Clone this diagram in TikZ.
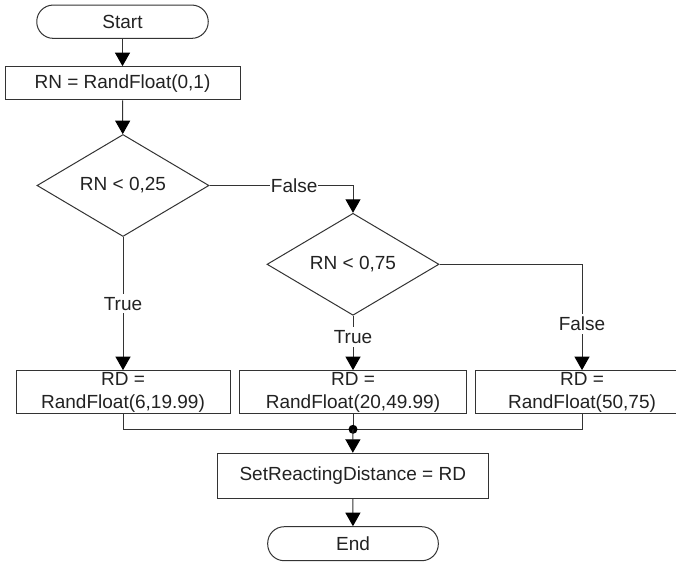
\documentclass[tikz,border=0pt]{standalone}
\usepackage{fontspec}
\setmainfont{Liberation Sans}
\usetikzlibrary{shapes.geometric,arrows.meta}
\definecolor{ink}{HTML}{222222}
\definecolor{wire}{HTML}{333333}
\tikzset{
  every node/.style={font=\fontsize{19}{23}\selectfont, text=ink},
  terminal/.style={draw=wire, line width=1pt, rounded corners=16.5pt, inner sep=0pt},
  procbox/.style={draw=wire, line width=1pt, inner sep=0pt, align=center},
  decision/.style={draw=wire, line width=1pt, diamond, inner sep=0pt,
    minimum width=172pt, minimum height=102pt},
  flow/.style={draw=wire, line width=1pt,
    -{Triangle[width=15pt,length=13.5pt,color=black]}},
  wireline/.style={draw=wire, line width=1pt},
  lbl/.style={fill=white, inner xsep=0.5pt, inner ysep=3pt},
}
\begin{document}
\begin{tikzpicture}[x=1pt, y=-1pt]
  \clip (0,0) rectangle (676,562);
  \fill[white] (0,0) rectangle (676,562);

  % process chain
  \node[terminal, minimum width=171.5pt, minimum height=33.3pt] (start) at (122.5,21.7) {Start};
  \node[procbox, minimum width=235pt, minimum height=33.3pt] (rn) at (122.5,83.3) {RN = RandFloat(0,1)};
  \node[decision] (d1) at (123,185.5) {RN < 0,25};
  \node[decision] (d2) at (353,264.3) {RN < 0,75};

  \node[procbox, minimum width=214pt, minimum height=43.3pt] (b1) at (123,392.3) {RD =\\RandFloat(6,19.99)};
  \node[procbox, minimum width=227pt, minimum height=43.3pt] (b2) at (353,392.3) {RD =\\RandFloat(20,49.99)};
  \node[procbox, minimum width=212.6pt, minimum height=43.3pt] (b3) at (582,392.3) {RD =\\RandFloat(50,75)};

  \coordinate (j) at (353,429.3);
  \node[procbox, minimum width=271pt, minimum height=45pt] (srd) at (352.8,475.8) {SetReactingDistance = RD};
  \node[terminal, minimum width=170.6pt, minimum height=34pt] (end) at (353,543.7) {End};

  % connectors
  \draw[flow] (start) -- (rn);
  \draw[flow] (rn) -- (d1);
  \draw[flow] (d1.east) -| node[lbl, pos=0.295] {False} (d2.north);
  \draw[flow] (d1.south) -- node[lbl, pos=0.5] {True} (b1.north);
  \draw[flow] (d2.south) -- node[lbl, pos=0.39] {True} (b2.north);
  \draw[flow] (d2.east) -| node[lbl, pos=0.782] {False} (b3.north);

  % merge of the three branches
  \draw[wireline] (b1.south) |- (j);
  \draw[wireline] (b3.south) |- (j);
  \draw[wireline] (b2.south) -- (j);
  \fill[black] (j) circle (4.5pt);
  \draw[flow] (j) -- (srd.north);
  \draw[flow] (srd) -- (end);
\end{tikzpicture}
\end{document}
